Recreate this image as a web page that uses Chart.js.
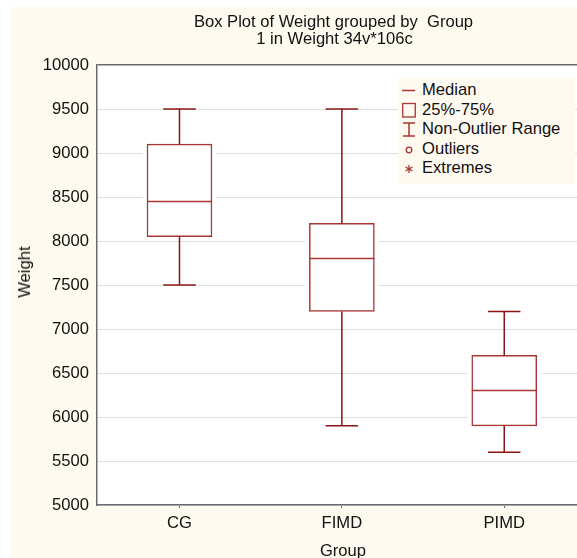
<!DOCTYPE html>
<html>
<head>
<meta charset="utf-8">
<script src="https://cdn.jsdelivr.net/npm/chart.js@4.4.1/dist/chart.umd.min.js"></script>
<style>
  html, body { margin: 0; padding: 0; background: #ffffff; }
  body { width: 577px; height: 558px; position: relative; overflow: hidden;
         font-family: "Liberation Sans", Arial, sans-serif; color: #111; }
  #bg { position: absolute; left: 11px; top: 7px; right: 0; bottom: 0; background: #fffaf0; }
  #c { position: absolute; left: 0; top: 0; }
  .t { position: absolute; white-space: nowrap; font-size: 16.6px; line-height: 18px; }
  #legend { position: absolute; left: 398px; top: 78px; width: 177px; height: 106px; background: #fffaf0; }
  .li { position: absolute; left: 24px; font-size: 16.6px; line-height: 18px; white-space: nowrap; color: #111; }
  .ic { position: absolute; left: 4px; }
</style>
</head>
<body>
<div id="bg"></div>
<canvas id="c" width="577" height="558"></canvas>
<div class="t" id="title1" style="left:333.5px; top:12.5px; transform:translateX(-50%);">Box Plot of Weight grouped by&nbsp; Group</div>
<div class="t" id="title2" style="left:334.5px; top:30px; transform:translateX(-50%);">1 in Weight 34v*106c</div>
<div class="t" id="ytitle" style="left:24.5px; top:272px; transform:translate(-50%,-50%) rotate(-90deg);">Weight</div>
<div class="t" id="xtitle" style="left:343px; top:542px; transform:translateX(-50%);">Group</div>
<div id="legend"></div>
<script>
// ---- data ----
const categories = ['CG', 'FIMD', 'PIMD'];
const whiskerLow = [7500, 5900, 5600];
const quartile1 = [8050, 7200, 5900];
const medians = [8450, 7800, 6300];
const quartile3 = [9100, 8200, 6700];
const whiskerHigh = [9500, 9500, 7200];
const yTickValues = [5000, 5500, 6000, 6500, 7000, 7500, 8000, 8500, 9000, 9500, 10000];
const legendLabels = ['Median', '25%-75%', 'Non-Outlier Range', 'Outliers', 'Extremes'];

const boxColor = '#a83434';
const whiskerColor = '#8a1414';

// ---- build datasets ----
const boxData = categories.map((c, i) => ({ x: i + 1, y: [quartile1[i], quartile3[i]] }));
const lineData = [];
categories.forEach((c, i) => {
  const x = i + 1;
  lineData.push({ x: x, y: whiskerHigh[i] }, { x: x, y: quartile3[i] }, { x: x, y: null });
  lineData.push({ x: x, y: quartile1[i] }, { x: x, y: whiskerLow[i] }, { x: x, y: null });
  lineData.push({ x: x - 0.1, y: whiskerHigh[i] }, { x: x + 0.1, y: whiskerHigh[i] }, { x: x, y: null });
  lineData.push({ x: x - 0.1, y: whiskerLow[i] }, { x: x + 0.1, y: whiskerLow[i] }, { x: x, y: null });
});
const medianData = [];
categories.forEach((c, i) => {
  const x = i + 1;
  medianData.push({ x: x - 0.2, y: medians[i] }, { x: x + 0.2, y: medians[i] }, { x: x, y: null });
});

const plotBg = {
  id: 'plotBg',
  beforeDraw(chart) {
    const { ctx, chartArea: a } = chart;
    ctx.save();
    ctx.fillStyle = '#ffffff';
    ctx.fillRect(a.left, a.top, a.right - a.left, a.bottom - a.top);
    ctx.restore();
  }
};

const tickFont = { family: '"Liberation Sans", Arial, sans-serif', size: 16.6 };

new Chart(document.getElementById('c'), {
  type: 'bar',
  data: {
    datasets: [
      { type: 'line', label: 'median', data: medianData, borderColor: boxColor, borderWidth: 1.5,
        pointRadius: 0, spanGaps: false, order: 0, fill: false },
      { type: 'line', label: 'whiskers', data: lineData, borderColor: whiskerColor, borderWidth: 1.5,
        pointRadius: 0, spanGaps: false, order: 0, fill: false },
      { type: 'bar', label: 'box', data: boxData, backgroundColor: '#ffffff', borderColor: boxColor,
        borderWidth: 1.5, borderSkipped: false, barThickness: 65, grouped: false, order: 1 },
      { type: 'bar', label: 'boxGap', data: boxData, backgroundColor: '#ffffff', borderWidth: 0,
        barThickness: 73, grouped: false, order: 2 }
    ]
  },
  options: {
    responsive: false,
    animation: false,
    layout: { padding: { top: 65, right: 0, left: 0, bottom: 0 } },
    plugins: { legend: { display: false }, tooltip: { enabled: false }, title: { display: false } },
    scales: {
      x: {
        type: 'linear',
        min: 0.492,
        max: 3.448,
        offset: false,
        afterFit(s) { s.height = 53; },
        afterBuildTicks(s) { s.ticks = categories.map((c, i) => ({ value: i + 1 })); },
        ticks: {
          callback: (v) => categories[Math.round(v) - 1] || '',
          font: tickFont, color: '#111', padding: 5, maxRotation: 0, autoSkip: false
        },
        grid: { offset: false, drawOnChartArea: false, drawTicks: true, tickLength: 3, color: '#666' },
        border: { display: true, color: '#6a6a6a', width: 1.5 }
      },
      y: {
        type: 'linear',
        min: 5000,
        max: 10000,
        afterFit(s) { s.width = 97; },
        afterBuildTicks(s) { s.ticks = yTickValues.map(v => ({ value: v })); },
        ticks: { font: tickFont, color: '#111', padding: 8, callback: (v) => String(v) },
        grid: {
          drawTicks: false,
          color: (ctx) => (ctx.tick && ctx.tick.value === 10000) ? '#6a6a6a' : '#dedede',
          lineWidth: (ctx) => (ctx.tick && ctx.tick.value === 10000) ? 1.5 : 1
        },
        border: { display: true, color: '#6a6a6a', width: 1.5 }
      }
    }
  },
  plugins: [plotBg]
});

// ---- legend (HTML) ----
const icons = [
  '<svg width="14" height="18"><line x1="0" y1="9.5" x2="13" y2="9.5" stroke="' + boxColor + '" stroke-width="1.5"/></svg>',
  '<svg width="14" height="18"><rect x="0.75" y="2.5" width="12.5" height="13.5" fill="none" stroke="' + boxColor + '" stroke-width="1.3"/></svg>',
  '<svg width="14" height="18"><line x1="1" y1="3" x2="13" y2="3" stroke="' + boxColor + '" stroke-width="1.5"/><line x1="7" y1="3" x2="7" y2="16" stroke="' + boxColor + '" stroke-width="1.5"/><line x1="1" y1="16" x2="13" y2="16" stroke="' + boxColor + '" stroke-width="1.5"/></svg>',
  '<svg width="14" height="18"><circle cx="7" cy="10" r="2.8" fill="none" stroke="' + boxColor + '" stroke-width="1.3"/></svg>',
  '<svg width="14" height="18"><g stroke="' + boxColor + '" stroke-width="1.3"><line x1="7" y1="6" x2="7" y2="14"/><line x1="3.5" y1="8" x2="10.5" y2="12"/><line x1="3.5" y1="12" x2="10.5" y2="8"/></g></svg>'
];
const legendTops = [3, 22.5, 42, 61.5, 81];
const leg = document.getElementById('legend');
legendLabels.forEach((lab, i) => {
  const ic = document.createElement('div');
  ic.className = 'ic';
  ic.style.top = (legendTops[i]) + 'px';
  ic.innerHTML = icons[i];
  leg.appendChild(ic);
  const d = document.createElement('div');
  d.className = 'li';
  d.style.top = legendTops[i] + 'px';
  d.textContent = lab;
  leg.appendChild(d);
});
</script>
</body>
</html>
